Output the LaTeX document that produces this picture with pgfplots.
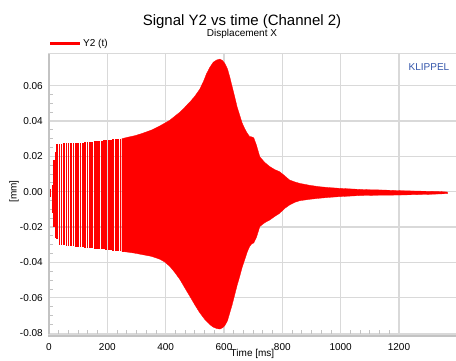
\documentclass[border=0pt]{standalone}
\usepackage{fontspec}
\setmainfont{Liberation Sans}
\usepackage{pgfplots}
\pgfplotsset{compat=1.18}
\definecolor{gridgray}{RGB}{217,217,217}
\definecolor{axgray}{RGB}{195,195,195}
\definecolor{klippelblue}{RGB}{51,85,170}
\begin{document}
\begin{tikzpicture}
\begin{axis}[
  at={(0,0)}, anchor=south west,
  scale only axis, width=408.3pt, height=280.2pt,
  xmin=0, xmax=1400, ymin=-0.0805, ymax=0.078,
  xtick={0,200,400,600,800,1000,1200},
  ytick={-0.08,-0.06,-0.04,-0.02,0,0.02,0.04,0.06},
  scaled y ticks=false, scaled x ticks=false,
  /pgf/number format/1000 sep={},
  /pgf/number format/assume math mode=true,
  ticklabel style={font=\fontsize{10}{12}\selectfont},
  xticklabel style={yshift=-6pt},
  yticklabel style={xshift=-2.7pt, /pgf/number format/.cd, fixed, fixed zerofill, precision=2},
  grid=major,
  major grid style={gridgray, line width=1.2pt},
  axis line style={gridgray, line width=1pt},
  tick pos=left, tick align=inside,
  major tick length=0pt, minor tick length=4pt,
  minor tick style={axgray, line width=0.8pt},
  minor x tick num=5, minor y tick num=3,
  xlabel={Time [ms]}, ylabel={[mm]},
  label style={font=\fontsize{10}{12}\selectfont},
  xlabel style={at={(axis description cs:0.4984,-0.0725)}, anchor=center},
  ylabel style={at={(axis description cs:-0.0857,0.508)}, anchor=center},
  legend style={at={(axis description cs:0,1)}, anchor=south west, yshift=4pt,
    draw=none, fill=none, inner sep=0pt, outer sep=0pt,
    font=\fontsize{10}{12}\selectfont},
  legend cell align=left,
  legend image code/.code={\draw[#1] (0pt,0pt) -- (30pt,0pt);},
]
\addlegendimage{red, line width=2.2pt}
\addlegendentry{Y2 (t)}

% early part: individual visible oscillation strokes (upper / lower extent)
\addplot[draw=none, mark=none, forget plot,
  error bars/.cd, y dir=both, y explicit, error mark=none,
  error bar style={draw=red, line width=1.4pt}]
  table[x=t, y=y, y error plus=up, y error minus=dn] {
t     y  up      dn
5     0  0.0015  0.0030
11    0  0.0040  0.0120
16.5  0  0.0180  0.0200
22    0  0.0225  0.0260
27.4  0  0.0270  0.0265
35.5  0  0.0272  0.0301
43.5  0  0.0272  0.0302
51.6  0  0.0273  0.0304
59.6  0  0.0273  0.0305
67.7  0  0.0274  0.0307
75.8  0  0.0274  0.0308
83.8  0  0.0275  0.0309
91.9  0  0.0275  0.0311
99.9  0  0.0276  0.0312
108.0 0  0.0277  0.0313
116.1 0  0.0278  0.0315
124.1 0  0.0279  0.0316
132.2 0  0.0280  0.0318
140.2 0  0.0281  0.0319
};
\addplot[draw=none, mark=none, forget plot,
  error bars/.cd, y dir=both, y explicit, error mark=none,
  error bar style={draw=red, line width=1.9pt}]
  table[x=t, y=y, y error plus=up, y error minus=dn] {
t     y  up      dn
148.3 0  0.0283  0.0320
156.4 0  0.0284  0.0322
164.4 0  0.0286  0.0323
172.5 0  0.0288  0.0325
180.5 0  0.0289  0.0326
188.6 0  0.0291  0.0327
196.7 0  0.0292  0.0329
204.7 0  0.0293  0.0330
212.8 0  0.0295  0.0332
220.8 0  0.0296  0.0333
228.9 0  0.0297  0.0334
237.0 0  0.0298  0.0336
245.0 0  0.0299  0.0337
253.1 0  0.0300  0.0339
};

% dense part: envelope of the oscillation
\addplot[fill=red, draw=red, line width=0.3pt, forget plot] coordinates {
(250,0.0300) (270,0.0308) (295,0.0317) (320,0.0330) (352,0.0349) (380,0.0372)
(414,0.0404) (449,0.0450) (483,0.0507) (500,0.0540) (517,0.0580) (530,0.0625)
(540,0.0667) (552,0.0705) (563,0.0732) (575,0.0745) (586,0.0750) (595,0.0742)
(603,0.0725) (612,0.0695) (620,0.0648) (628,0.0595) (637,0.0535) (645,0.0480)
(654,0.0432) (662,0.0390) (671,0.0357) (680,0.0330) (688,0.0312) (695,0.0310)
(702,0.0305) (711,0.0265) (723,0.0197) (740,0.0165) (757,0.0142) (774,0.0125)
(791,0.0113) (808,0.0090) (825,0.0066) (843,0.0055) (860,0.0047) (894,0.0036)
(928,0.0028) (962,0.0023) (997,0.0019) (1031,0.0016) (1065,0.0013) (1100,0.0011)
(1134,0.0010) (1170,0.0008) (1202,0.0006) (1250,0.0004) (1305,0.0002) (1340,0.0001)
(1366,-0.0002)
(1366,-0.0011) (1305,-0.0015) (1250,-0.0017) (1202,-0.0019) (1134,-0.0020)
(1065,-0.0022) (1031,-0.0025) (997,-0.0028) (962,-0.0032) (928,-0.0037)
(894,-0.0043) (860,-0.0051) (843,-0.0060) (825,-0.0075) (808,-0.0095)
(791,-0.0122) (774,-0.0140) (757,-0.0160) (740,-0.0175) (723,-0.0197)
(711,-0.0260) (702,-0.0290) (695,-0.0295) (688,-0.0310) (680,-0.0340)
(671,-0.0385) (662,-0.0430) (654,-0.0479) (645,-0.0530) (637,-0.0582)
(628,-0.0640) (620,-0.0685) (612,-0.0730) (603,-0.0757) (595,-0.0770)
(586,-0.0777) (575,-0.0774) (563,-0.0766) (551,-0.0751) (534,-0.0722)
(517,-0.0685) (500,-0.0640) (483,-0.0592) (466,-0.0545) (449,-0.0497)
(432,-0.0458) (414,-0.0422) (397,-0.0398) (380,-0.0382) (352,-0.0366)
(320,-0.0356) (295,-0.0348) (270,-0.0342) (250,-0.0338)
} -- cycle;
\end{axis}
\draw[axgray, line width=2pt] (0,0) -- (0,280.2pt);
\draw[axgray, line width=2.5pt] (-1pt,-2pt) -- (410pt,-2pt);
\node[anchor=base, font=\fontsize{15}{18}\selectfont] at (193pt,309pt) {Signal Y2 vs time (Channel 2)};
\node[anchor=base, font=\fontsize{10}{12}\selectfont] at (193pt,297.5pt) {Displacement X};
\node[text=klippelblue, font=\fontsize{10}{12}\selectfont] at (380pt,267pt) {KLIPPEL};
\pgfresetboundingbox
\path[use as bounding box] (-49pt,-26pt) rectangle (407pt,334pt);
\end{tikzpicture}
\end{document}
